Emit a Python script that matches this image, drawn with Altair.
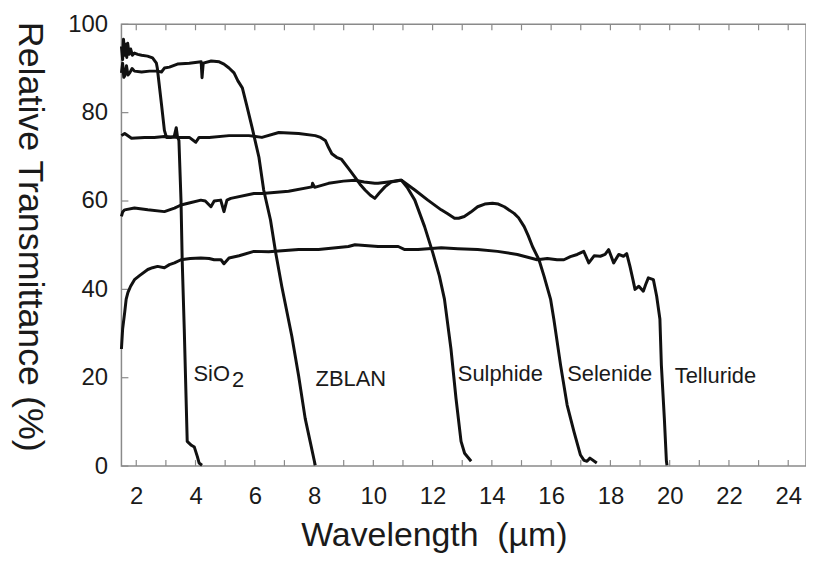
import altair as alt
import pandas as pd

# ---- data (wavelength in µm, transmittance in %) ----
sio2_x = [1.50, 1.54, 1.57, 1.61, 1.64, 1.68, 1.71, 1.76, 1.81, 1.87, 1.94, 2.05, 2.18, 2.38, 2.55, 2.68, 2.71, 2.85,
          2.95, 3.02, 3.18, 3.28, 3.35, 3.39, 3.44, 3.51, 3.55, 3.62, 3.72, 3.86, 3.96, 4.06, 4.12, 4.22]
sio2_y = [95.0, 92.0, 96.6, 93.0, 95.5, 92.5, 95.7, 93.2, 94.4, 93.0, 93.5, 93.2, 93.0, 92.8, 92.4, 91.2, 90.1, 82.0,
          76.0, 74.4, 74.4, 74.6, 76.6, 74.6, 73.7, 60.2, 46.7, 31.0, 5.6, 4.7, 4.3, 2.2, 0.7, 0.2]

zblan_x = [1.50, 1.54, 1.58, 1.61, 1.67, 1.72, 1.78, 1.86, 1.94, 2.18, 2.45, 2.71, 2.85, 2.95, 3.12, 3.39, 3.79, 4.19,
           4.22, 4.26, 4.53, 4.80, 4.96, 5.13, 5.30, 5.43, 5.58, 5.73, 5.91, 6.14, 6.30, 6.53, 6.70, 6.91, 7.25, 7.48,
           7.70, 7.88, 8.04]
zblan_y = [89.0, 91.2, 88.0, 88.3, 90.6, 88.5, 89.0, 90.0, 89.4, 89.2, 89.4, 89.4, 89.2, 90.1, 90.3, 91.0, 91.2, 91.5,
           87.9, 91.2, 91.7, 91.5, 91.0, 90.1, 89.0, 87.2, 85.6, 81.6, 76.6, 69.9, 62.5, 55.7, 48.5, 40.7, 29.4, 20.4,
           10.8, 5.2, 0.2]

sulphide_x = [1.50, 1.61, 1.84, 2.28, 2.61, 2.95, 3.45, 3.79, 4.01, 4.12, 4.46, 5.13, 5.80, 6.24, 6.81, 7.48, 8.04,
              8.22, 8.38, 8.49, 8.60, 8.76, 8.93, 9.16, 9.38, 9.55, 9.72, 9.90, 10.05, 10.20, 10.39, 10.60, 10.89,
              10.95, 11.14, 11.40, 11.73, 12.01, 12.23, 12.40, 12.62, 12.79, 12.96, 13.08, 13.30]
sulphide_y = [74.8, 75.3, 74.2, 74.4, 74.4, 74.6, 74.4, 74.4, 73.3, 74.4, 74.4, 74.8, 74.8, 74.4, 75.5, 75.3, 74.8,
              74.4, 73.7, 72.1, 70.7, 69.9, 69.4, 67.4, 65.4, 63.8, 62.5, 61.3, 60.6, 61.8, 63.2, 64.3, 64.7,
              64.7, 63.1, 60.2, 54.2, 48.2, 43.0, 37.8, 26.5, 15.3, 5.6, 2.9, 1.1]

selenide_x = [1.50, 1.54, 1.61, 1.94, 2.39, 2.95, 3.29, 3.51, 3.82, 4.18, 4.33, 4.52, 4.63, 4.85, 4.96, 5.06, 5.19,
              5.97, 6.25, 7.14, 7.93, 7.95, 8.02, 8.49, 8.99, 9.38, 9.69, 10.05, 10.16, 10.50, 10.95, 11.40, 11.84,
              12.29, 12.51, 12.74, 12.88, 13.07, 13.29, 13.52, 13.76, 14.02, 14.22, 14.42, 14.75, 14.90, 15.09,
              15.23, 15.37, 15.59, 15.76, 15.98, 16.09, 16.32, 16.54, 16.77, 16.99, 17.11, 17.21, 17.31, 17.54]
selenide_y = [56.5, 57.5, 58.0, 58.4, 58.0, 57.6, 58.4, 59.1, 59.6, 60.2, 60.0, 58.7, 60.0, 60.2, 57.6, 60.2, 60.6,
              61.7, 61.7, 62.2, 63.2, 64.0, 63.1, 64.0, 64.5, 64.7, 64.3, 64.0, 64.0, 64.3, 64.7, 62.5, 60.2,
              58.0, 57.1, 56.1, 56.1, 56.5, 57.5, 58.7, 59.3, 59.5, 59.3, 58.7, 57.2, 56.2, 54.2,
              52.1, 49.7, 46.7, 43.0, 37.8, 33.3, 22.8, 13.8, 7.8, 2.5, 1.3, 1.1, 1.8, 0.7]

telluride_x = [1.50, 1.54, 1.61, 1.66, 1.72, 1.81, 1.94, 2.11, 2.39, 2.55, 2.72, 2.95, 3.12, 3.29, 3.51, 3.82, 4.18,
               4.46, 4.63, 4.86, 4.96, 5.13, 5.47, 5.97, 6.47, 7.48, 8.15, 9.16, 9.38, 10.16, 10.84, 11.06, 11.51,
               12.29, 12.85, 13.52, 14.19, 14.86, 15.53, 15.87, 16.20, 16.43, 16.65, 16.88, 17.10, 17.27, 17.45,
               17.66, 17.82, 17.94, 18.11, 18.28, 18.44, 18.55, 18.66, 18.76, 18.83, 18.96, 19.11, 19.19, 19.28,
               19.45, 19.56, 19.67, 19.72, 19.82, 19.89, 19.91]
telluride_y = [26.5, 31.0, 34.8, 37.8, 39.3, 40.7, 42.2, 43.1, 44.5, 44.9, 45.2, 44.9, 45.6, 46.0, 46.7, 47.0, 47.1,
               47.0, 46.7, 46.7, 45.8, 47.1, 47.6, 48.6, 48.5, 49.0, 49.0, 49.7, 50.1, 49.7, 49.7, 49.0, 49.0,
               49.4, 49.2, 49.0, 48.6, 47.9, 46.7, 47.0, 46.7, 46.7, 47.4, 47.9, 48.6, 46.0, 47.6,
               47.5, 47.9, 49.0, 46.0, 47.9, 47.5, 48.1, 45.2, 42.2, 40.0, 40.7, 39.6, 41.1, 42.6,
               42.2, 38.5, 33.3, 22.8, 10.8, 1.1, 0.2]

label_text = ["SiO", "2", "ZBLAN", "Sulphide", "Selenide", "Telluride"]
label_x = [3.93, 5.23, 8.05, 12.85, 16.54, 20.17]
label_y = [19.3, 18.0, 18.2, 19.2, 19.2, 18.7]

x_label_values = [2, 4, 6, 8, 10, 12, 14, 16, 18, 20, 22, 24]
x_minor_ticks = list(range(2, 25))
y_label_values = [0, 20, 40, 60, 80, 100]

# ---- tables ----
rows = []
for name, xs, ys in [("SiO2", sio2_x, sio2_y), ("ZBLAN", zblan_x, zblan_y),
                     ("Sulphide", sulphide_x, sulphide_y), ("Selenide", selenide_x, selenide_y),
                     ("Telluride", telluride_x, telluride_y)]:
    for i, (a, b) in enumerate(zip(xs, ys)):
        rows.append({"series": name, "wl": a, "t": b, "i": i})
lines_df = pd.DataFrame(rows)
labels_df = pd.DataFrame({"text": label_text, "wl": label_x, "t": label_y})
xt_df = pd.DataFrame({"wl": x_minor_ticks})
yt_df = pd.DataFrame({"t": y_label_values})

W, H = 688, 444
FONT = "Liberation Sans"
GRAY = "#8a8a8a"

xscale = alt.Scale(domain=[1.5, 24.6], nice=False, zero=False)
yscale = alt.Scale(domain=[0, 100], nice=False)

xaxis = alt.Axis(values=x_label_values, ticks=False, tickSize=0, domain=False, grid=False,
                 labelFontSize=24, labelFont=FONT, labelColor="#1a1a1a", labelPadding=19,
                 title="Wavelength\u00a0 (µm)", titleFont=FONT, titleFontSize=34, titleFontWeight="normal",
                 titleColor="#1a1a1a", titleX=314, titleY=80, titleAlign="center", titleBaseline="alphabetic")
yaxis = alt.Axis(values=y_label_values, ticks=False, tickSize=0, domain=False, grid=False,
                 labelFontSize=24, labelFont=FONT, labelColor="#1a1a1a", labelPadding=14,
                 title="Relative Transmittance (%)", titleFont=FONT, titleFontSize=36, titleFontWeight="normal",
                 titleColor="#1a1a1a", titleAngle=90, titleX=-92, titleY=213, titleAlign="center",
                 titleBaseline="middle")

lines = alt.Chart(lines_df).mark_line(color="#111111", strokeWidth=3, strokeJoin="round").encode(
    x=alt.X("wl:Q", scale=xscale, axis=xaxis),
    y=alt.Y("t:Q", scale=yscale, axis=yaxis),
    detail="series:N",
    order="i:Q",
)

labels = alt.Chart(labels_df).mark_text(align="left", baseline="alphabetic", font=FONT, fontSize=22,
                                        color="#1a1a1a").encode(
    x=alt.X("wl:Q", scale=xscale), y=alt.Y("t:Q", scale=yscale), text="text:N")

bottom_ticks = alt.Chart(xt_df).mark_rule(color=GRAY, strokeWidth=1.2).encode(
    x=alt.X("wl:Q", scale=xscale), y=alt.value(H), y2=alt.value(H - 6))
top_ticks = alt.Chart(xt_df).mark_rule(color=GRAY, strokeWidth=1.2).encode(
    x=alt.X("wl:Q", scale=xscale), y=alt.value(0), y2=alt.value(6))
left_ticks = alt.Chart(yt_df).mark_rule(color=GRAY, strokeWidth=1.2).encode(
    y=alt.Y("t:Q", scale=yscale), x=alt.value(0), x2=alt.value(7))

chart = alt.layer(bottom_ticks, top_ticks, left_ticks, lines, labels).properties(
    width=W, height=H,
    autosize=alt.AutoSizeParams(type="none"),
    padding={"left": 114, "top": 15, "right": 0, "bottom": 90},
    background="white",
).configure_view(stroke=GRAY, strokeWidth=1.5)

chart.save("out.html", embed_options={"renderer": "svg", "actions": False})
